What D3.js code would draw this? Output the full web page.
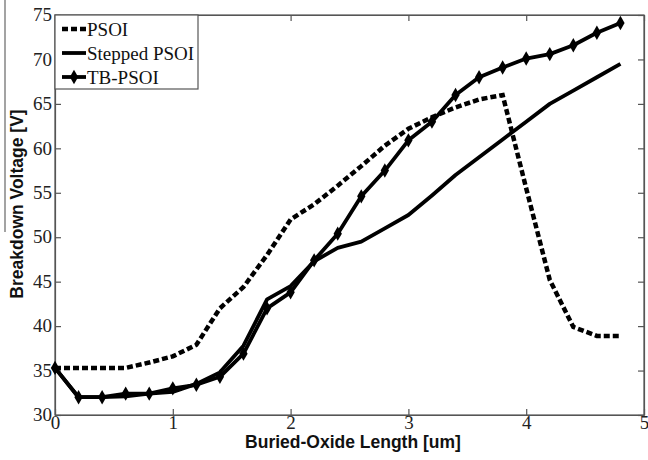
<!DOCTYPE html>
<html><head><meta charset="utf-8">
<script src="https://cdn.jsdelivr.net/npm/d3@7"></script>
<style>body{margin:0;background:#fff}svg{display:block}</style>
</head><body><svg id="c" width="648" height="460"></svg>
<script>
const xs = [0,0.2,0.4,0.6,0.8,1.0,1.2,1.4,1.6,1.8,2.0,2.2,2.4,2.6,2.8,3.0,3.2,3.4,3.6,3.8,4.0,4.2,4.4,4.6,4.8];
const psoi = [35.3,35.3,35.3,35.3,35.9,36.6,37.9,42,44.4,48,52,53.7,55.8,58,60.3,62.2,63.5,64.6,65.5,66,55.5,45.2,39.9,38.9,38.9];
const stepped = [35.3,32,32,32.1,32.4,32.6,33.5,34.8,37.8,43,44.5,47.3,48.8,49.5,51,52.5,54.7,57,59,61,63,65,66.5,68,69.5];
const tbpsoi = [35.3,32,32,32.4,32.4,33,33.4,34.3,36.9,42,43.8,47.4,50.4,54.6,57.5,60.9,63,66,68,69.1,70.1,70.6,71.6,73,74.1];
const xTicks = [0,1,2,3,4,5];
const yTicks = [30,35,40,45,50,55,60,65,70,75];
const seriesNames = ["PSOI","Stepped PSOI","TB-PSOI"];

const svg = d3.select("#c");
const L=55,R=644,T=15,B=415;
const x = d3.scaleLinear().domain([0,5]).range([L,R]);
const y = d3.scaleLinear().domain([30,75]).range([B,T]);
const axisCol="#555";
const serif="'Liberation Serif','Times New Roman',serif";
const sans="'Liberation Sans',Arial,sans-serif";

// artifact line at left
svg.append("line").attr("x1",5).attr("x2",5).attr("y1",0).attr("y2",232).attr("stroke","#666").attr("stroke-width",1.2);

// frame
svg.append("rect").attr("x",L).attr("y",T).attr("width",R-L).attr("height",B-T).attr("fill","none").attr("stroke",axisCol).attr("stroke-width",1.2);

// axes
const xa = svg.append("g").attr("transform",`translate(0,${B})`)
  .call(d3.axisBottom(x).tickValues(xTicks).tickSizeInner(-6).tickSizeOuter(0).tickPadding(4).tickFormat(d3.format("d")));
const ya = svg.append("g").attr("transform",`translate(${L},0)`)
  .call(d3.axisLeft(y).tickValues(yTicks).tickSizeInner(-6).tickSizeOuter(0).tickPadding(3).tickFormat(d3.format("d")));
const xt = svg.append("g").attr("transform",`translate(0,${T})`)
  .call(d3.axisTop(x).tickValues(xTicks).tickSizeInner(-6).tickSizeOuter(0).tickFormat(""));
const yr = svg.append("g").attr("transform",`translate(${R},0)`)
  .call(d3.axisRight(y).tickValues(yTicks).tickSizeInner(-6).tickSizeOuter(0).tickFormat(""));
[xa,ya,xt,yr].forEach(g=>{
  g.select(".domain").attr("stroke",axisCol).attr("stroke-width",1.2);
  g.selectAll(".tick line").attr("stroke",axisCol).attr("stroke-width",1.2);
  g.selectAll("text").attr("font-family",serif).attr("font-size",19).attr("fill","#222");
});
xa.selectAll("text").attr("dy","0.5em");
ya.selectAll("text").attr("dy","0.3em");

// lines
const line = d3.line().x((d,i)=>x(xs[i])).y(d=>y(d));
svg.append("path").datum(psoi).attr("d",line).attr("fill","none").attr("stroke","#000")
  .attr("stroke-width",4.5).attr("stroke-dasharray","6,3");
svg.append("path").datum(stepped).attr("d",line).attr("fill","none").attr("stroke","#000")
  .attr("stroke-width",3.8).attr("stroke-linejoin","round");
svg.append("path").datum(tbpsoi).attr("d",line).attr("fill","none").attr("stroke","#000")
  .attr("stroke-width",3.8).attr("stroke-linejoin","round");
const sym = d3.symbol().type(d3.symbolDiamond).size(60);
svg.append("g").selectAll("path").data(tbpsoi).join("path")
  .attr("transform",(d,i)=>`translate(${x(xs[i])},${y(d)})`).attr("d",sym).attr("fill","#000");

// legend
const lg = svg.append("g");
lg.append("rect").attr("x",L).attr("y",T).attr("width",143).attr("height",74)
  .attr("fill","#fff").attr("stroke",axisCol).attr("stroke-width",1.2);
const ly=[29,53,77];
seriesNames.forEach((n,i)=>{
  const l = lg.append("line").attr("x1",62).attr("x2",86).attr("y1",ly[i]).attr("y2",ly[i]).attr("stroke","#000");
  if(i===0) l.attr("stroke-width",4.5).attr("stroke-dasharray","6,3");
  else l.attr("stroke-width",3.8);
  if(i===2) lg.append("path").attr("transform",`translate(74,${ly[i]})`).attr("d",sym).attr("fill","#000");
  lg.append("text").attr("x",87).attr("y",ly[i]).attr("dy","0.35em").attr("font-family",serif)
    .attr("font-size",19).attr("fill","#111").text(n);
});

// titles
svg.append("text").attr("x",353).attr("y",448).attr("text-anchor","middle")
  .attr("font-family",sans).attr("font-weight","bold").attr("font-size",17.5).attr("fill","#111")
  .text("Buried-Oxide Length [um]");
svg.append("text").attr("transform","translate(23,204) rotate(-90)").attr("text-anchor","middle")
  .attr("font-family",sans).attr("font-weight","bold").attr("font-size",17.5).attr("fill","#111")
  .text("Breakdown Voltage [V]");
</script></body></html>
